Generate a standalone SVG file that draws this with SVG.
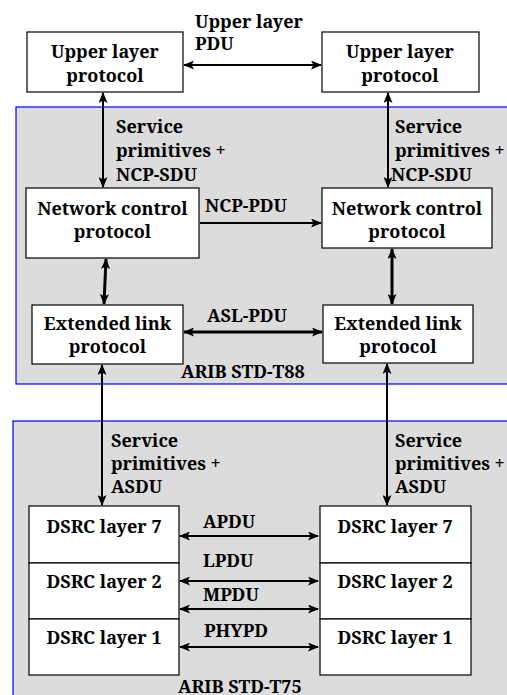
<svg xmlns="http://www.w3.org/2000/svg" width="507" height="695" viewBox="0 0 507 695">
  <style>
    text { font-family: 'Noto Serif', 'Liberation Serif', serif; font-weight: 700; font-size: 18px; fill: #000; }
    .c { text-anchor: middle; }
    .box { fill: #fff; stroke: #000; stroke-width: 1.2; }
    .panel { fill: #dcdcdc; stroke: #0000ff; stroke-width: 1.2; }
    .ln { stroke: #000; stroke-width: 2; fill: none; }
    .thick { stroke-width: 3; }
    .bi { marker-start: url(#ah); marker-end: url(#ah); }
    .uni { marker-end: url(#ah); }
  </style>
  <defs>
    <!-- barbed arrowhead, fixed size in user units -->
    <marker id="ah" markerUnits="userSpaceOnUse" markerWidth="11" markerHeight="9" refX="10" refY="4.5" orient="auto-start-reverse">
      <path d="M0,0 L11,4.5 L0,9 L2.5,4.5 z" fill="#000"/>
    </marker>
  </defs>
  <rect width="507" height="695" fill="#fff"/>

  <!-- ARIB STD-T88 region -->
  <g id="panel-t88">
    <rect class="panel" x="16" y="107" width="500" height="277"/>
    <text x="181" y="378">ARIB STD-T88</text>
  </g>
  <!-- ARIB STD-T75 region -->
  <g id="panel-t75">
    <rect class="panel" x="13" y="421" width="500" height="290"/>
    <text x="178" y="693">ARIB STD-T75</text>
  </g>

  <g id="upper-left">
    <rect class="box" x="27" y="32" width="156" height="60"/>
    <text class="c" x="105" y="58">Upper layer</text>
    <text class="c" x="105" y="82">protocol</text>
  </g>
  <g id="upper-right">
    <rect class="box" x="322" y="32" width="157" height="60"/>
    <text class="c" x="400" y="58">Upper layer</text>
    <text class="c" x="400" y="82">protocol</text>
  </g>

  <g id="ncp-left">
    <rect class="box" x="26" y="188" width="173" height="70"/>
    <text class="c" x="112.5" y="215">Network control</text>
    <text class="c" x="112.5" y="238">protocol</text>
  </g>
  <g id="ncp-right">
    <rect class="box" x="322" y="188" width="170" height="60"/>
    <text class="c" x="407" y="215">Network control</text>
    <text class="c" x="407" y="238">protocol</text>
  </g>

  <g id="ext-left">
    <rect class="box" x="32" y="305" width="151" height="59"/>
    <text class="c" x="107.5" y="330">Extended link</text>
    <text class="c" x="107.5" y="353">protocol</text>
  </g>
  <g id="ext-right">
    <rect class="box" x="323" y="305" width="150" height="58"/>
    <text class="c" x="398" y="330">Extended link</text>
    <text class="c" x="398" y="353">protocol</text>
  </g>

  <g id="dsrc-left">
    <rect class="box" x="29" y="506" width="150" height="57"/>
    <rect class="box" x="29" y="563" width="150" height="56"/>
    <rect class="box" x="29" y="619" width="150" height="56"/>
    <text class="c" x="104" y="533">DSRC layer 7</text>
    <text class="c" x="104" y="588">DSRC layer 2</text>
    <text class="c" x="104" y="644">DSRC layer 1</text>
  </g>
  <g id="dsrc-right">
    <rect class="box" x="320" y="506" width="151" height="57"/>
    <rect class="box" x="320" y="563" width="151" height="56"/>
    <rect class="box" x="320" y="619" width="151" height="56"/>
    <text class="c" x="395" y="533">DSRC layer 7</text>
    <text class="c" x="395" y="588">DSRC layer 2</text>
    <text class="c" x="395" y="644">DSRC layer 1</text>
  </g>

  <g id="connectors">
    <line class="ln bi" x1="184" y1="65" x2="321" y2="65"/>
    <line class="ln bi" x1="103" y1="93" x2="103" y2="187"/>
    <line class="ln bi" x1="388" y1="93" x2="388" y2="187"/>
    <line class="ln uni" x1="200" y1="223" x2="321" y2="223"/>
    <line class="ln thick bi" x1="106" y1="259" x2="104" y2="304"/>
    <line class="ln thick bi" x1="392" y1="249" x2="392" y2="304"/>
    <line class="ln thick bi" x1="184" y1="332" x2="322" y2="332"/>
    <line class="ln bi" x1="102" y1="365" x2="102" y2="505"/>
    <line class="ln bi" x1="387" y1="364" x2="387" y2="505"/>
    <line class="ln bi" x1="180" y1="536" x2="318" y2="536"/>
    <line class="ln bi" x1="180" y1="581" x2="318" y2="581"/>
    <line class="ln bi" x1="180" y1="609" x2="318" y2="609"/>
    <line class="ln bi" x1="180" y1="647" x2="318" y2="647"/>
  </g>

  <g id="labels">
    <text x="195" y="28">Upper layer</text>
    <text x="195" y="50">PDU</text>
    <text x="116" y="133">Service</text>
    <text x="116" y="157">primitives +</text>
    <text x="116" y="181">NCP-SDU</text>
    <text x="395" y="133">Service</text>
    <text x="395" y="157">primitives +</text>
    <text x="391" y="181">NCP-SDU</text>
    <text x="205" y="212">NCP-PDU</text>
    <text x="207" y="322">ASL-PDU</text>
    <text x="111" y="447">Service</text>
    <text x="111" y="470">primitives +</text>
    <text x="111" y="493">ASDU</text>
    <text x="395" y="447">Service</text>
    <text x="395" y="470">primitives +</text>
    <text x="395" y="493">ASDU</text>
    <text x="203" y="528">APDU</text>
    <text x="203" y="567">LPDU</text>
    <text x="203" y="601">MPDU</text>
    <text x="204" y="637">PHYPD</text>
  </g>
</svg>
